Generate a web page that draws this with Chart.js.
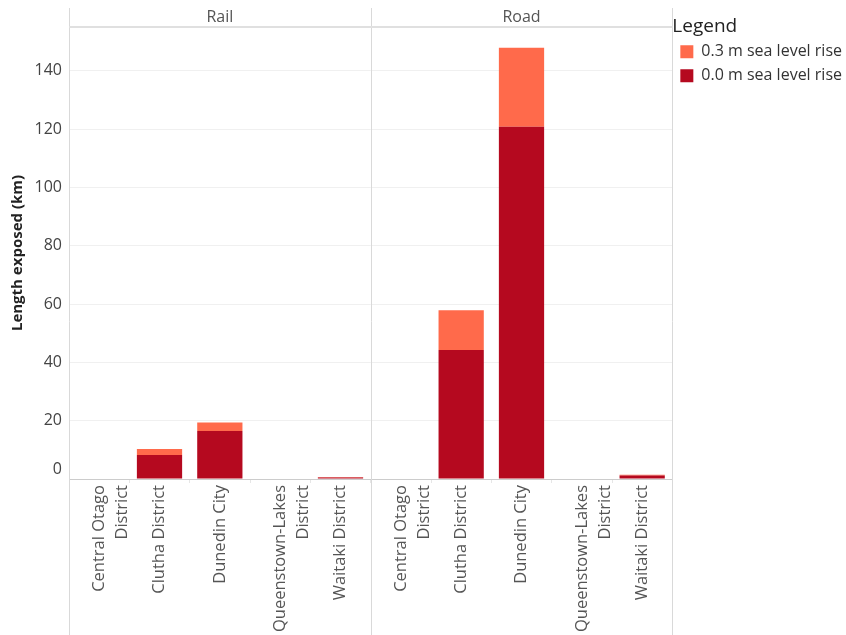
<!DOCTYPE html>
<html>
<head>
<meta charset="utf-8">
<script src="https://cdn.jsdelivr.net/npm/chart.js@4/dist/chart.umd.min.js"></script>
<style>
  html, body { margin: 0; padding: 0; background: #fff; }
  #wrap { width: 846px; height: 635px; }
</style>
</head>
<body>
<div id="wrap"><canvas id="myChart" width="846" height="635"></canvas></div>
<script>
const panels = ["Rail", "Road"];
const districts = [
    ["Central Otago", "District"],
    "Clutha District",
    "Dunedin City",
    ["Queenstown-Lakes", "District"],
    "Waitaki District"
];
// km exposed, per district, for each panel
const railBase = [0, 8.2, 16.5, 0, 0.5];
const railRise = [0, 2.1, 2.9, 0, 0.2];
const roadBase = [0, 44.2, 120.8, 0, 1.2];
const roadRise = [0, 13.7, 27.1, 0, 0.3];
const yTicks = [0, 20, 40, 60, 80, 100, 120, 140];

const labels = districts.concat(districts);
const baseValues = railBase.concat(roadBase);
const riseValues = railRise.concat(roadRise);

Chart.defaults.font.family = "'Open Sans', 'Noto Sans', sans-serif";

// panel frame lines (Tableau style)
const panelFrame = {
    id: "panelFrame",
    afterDraw(chart) {
        const ctx = chart.ctx;
        const area = chart.chartArea;
        const x = chart.scales.x;
        const mid = (x.getPixelForTick(4) + x.getPixelForTick(5)) / 2;
        ctx.save();
        ctx.strokeStyle = "#d9d9d9";
        ctx.lineWidth = 1;
        [area.left, mid, area.right].forEach(px => {
            ctx.beginPath();
            ctx.moveTo(Math.round(px) + 0.5, 8);
            ctx.lineTo(Math.round(px) + 0.5, chart.height);
            ctx.stroke();
        });
        ctx.strokeStyle = "#e0e0e0";
        ctx.lineWidth = 2;
        ctx.beginPath();
        ctx.moveTo(area.left, area.top);
        ctx.lineTo(area.right, area.top);
        ctx.stroke();
        ctx.restore();
    }
};

new Chart("myChart", {
    type: "bar",
    data: {
        labels: labels,
        datasets: [{
            label: "0.0 m sea level rise",
            backgroundColor: "#b5091f",
            borderWidth: 0,
            data: baseValues
        }, {
            label: "0.3 m sea level rise",
            backgroundColor: "#ff6a4b",
            borderWidth: 0,
            data: riseValues
        }]
    },
    options: {
        responsive: false,
        animation: false,
        devicePixelRatio: 1,
        layout: { padding: { top: 8, right: -6, bottom: 0, left: 0 } },
        datasets: {
            bar: { barPercentage: 0.75, categoryPercentage: 1 }
        },
        plugins: {
            tooltip: { enabled: false },
            legend: {
                position: "right",
                align: "start",
                reverse: true,
                title: {
                    display: true,
                    text: "Legend",
                    position: "start",
                    color: "#222",
                    font: { size: 19 },
                    padding: { top: 9, bottom: -4 }
                },
                labels: {
                    boxWidth: 13,
                    boxHeight: 13,
                    padding: 8,
                    color: "#333",
                    font: { size: 16 }
                }
            }
        },
        scales: {
            x: {
                stacked: true,
                offset: true,
                grid: {
                    offset: true,
                    drawOnChartArea: false,
                    tickLength: 4,
                    color: "#e6e6e6"
                },
                border: { display: true, color: "#cccccc" },
                ticks: {
                    autoSkip: false,
                    minRotation: 90,
                    maxRotation: 90,
                    padding: 2,
                    color: "#555",
                    font: { size: 16.5, lineHeight: 1.4 }
                },
                afterFit(scale) { scale.height = 156; }
            },
            x2: {
                type: "category",
                labels: panels,
                position: "top",
                display: true,
                offset: true,
                grid: { display: false, drawTicks: false },
                border: { display: false },
                ticks: { padding: 0, color: "#555", font: { size: 16 } },
                afterFit(scale) { scale.height = 19; }
            },
            y: {
                stacked: true,
                min: 0,
                max: 155,
                ticks: {
                    stepSize: 20,
                    padding: 7,
                    color: "#444",
                    font: { size: 16 },
                    // Tableau lifts the zero label above the baseline
                    callback: v => v === 0 ? ["0", ""] : String(v)
                },
                afterBuildTicks(axis) {
                    axis.ticks = yTicks.map(v => ({ value: v }));
                },
                grid: {
                    drawTicks: false,
                    color: ctx => ctx.tick && ctx.tick.value === 0 ? "rgba(0,0,0,0)" : "#f0f0f0"
                },
                border: { display: false },
                title: {
                    display: true,
                    text: "Length exposed (km)",
                    color: "#222",
                    font: { size: 15, weight: "bold" },
                    padding: { top: 9, bottom: 0 }
                },
                afterFit(scale) { scale.width = 69; }
            }
        }
    },
    plugins: [panelFrame]
});
</script>
</body>
</html>
